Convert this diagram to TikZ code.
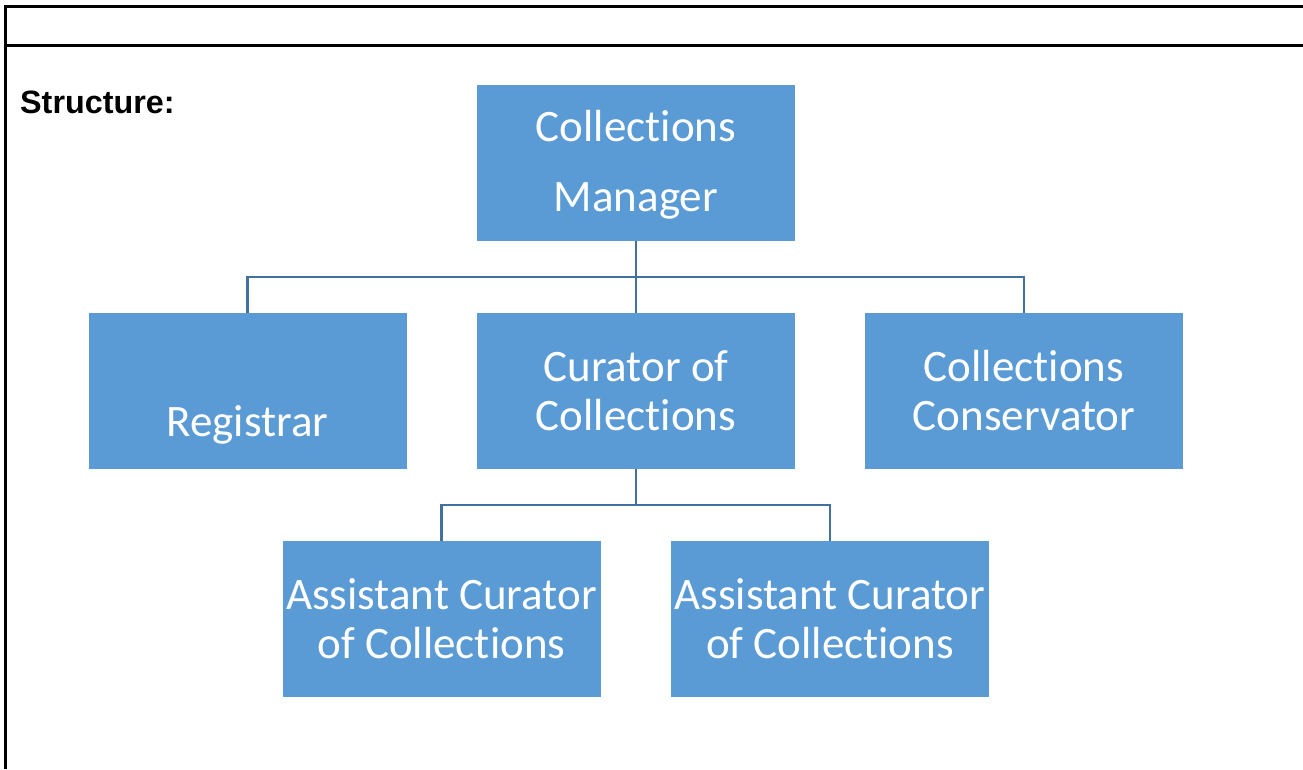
\documentclass[tikz,border=0pt]{standalone}
\usepackage{fontspec}
\setmainfont{Carlito}[Ligatures=NoCommon]
\newfontfamily\headfont{Liberation Sans}
\usepackage{xcolor}
\definecolor{boxblue}{HTML}{5B9BD5}
\definecolor{linkblue}{HTML}{41719C}

\begin{document}
\begin{tikzpicture}[x=1pt,y=-1pt]
                \tikzstyle{every node}=[inner sep=0pt]
                \tikzstyle{unit}=[rectangle, fill=boxblue, text=white, minimum width=318pt, minimum height=156pt, align=center, font=\fontsize{45}{49}\selectfont]
                \tikzstyle{unittext}=[text=white, align=center]
                \tikzstyle{link}=[draw=linkblue, line width=2.8pt]
                \tikzstyle{frame}=[line width=3pt, black]

                \useasboundingbox (0,0) rectangle (1303,769);

                % table frame
                \draw[frame] (1303,6) -- (5,6) -- (5,769);
                \draw[frame] (5,45) -- (1303,45);
                \node[anchor=base west, font=\headfont\bfseries\fontsize{32.3}{36}\selectfont] (title) at (20,113) {Structure:};

                % boxes
                \node[unit, label={[unittext, font=\fontsize{45}{70}\selectfont, yshift=-2pt]center:Collections\\Manager}] (mgr) at (636,163) {};
                \node[unit, label={[unittext, font=\fontsize{45}{49}\selectfont, yshift=-34pt]center:Registrar}] (reg) at (247.5,391) {};
                \node[unit] (cur) at (636,391) {Curator of\\Collections};
                \node[unit] (cons) at (1024,391) {Collections\\Conservator};
                \node[unit] (asst1) at (441.5,619) {Assistant Curator\\of Collections};
                \node[unit] (asst2) at (830,619) {Assistant Curator\\of Collections};

                % connectors
                \coordinate (bus1) at (636,277);
                \coordinate (bus2) at (636,505);
                \draw[link] (mgr.south) -- (bus1);
                \draw[link] (reg.north) |- (bus1) -| (cons.north);
                \draw[link] (bus1) -- (cur.north);
                \draw[link] (cur.south) -- (bus2);
                \draw[link] (asst1.north) |- (bus2) -| (asst2.north);
            \end{tikzpicture}
\end{document}
